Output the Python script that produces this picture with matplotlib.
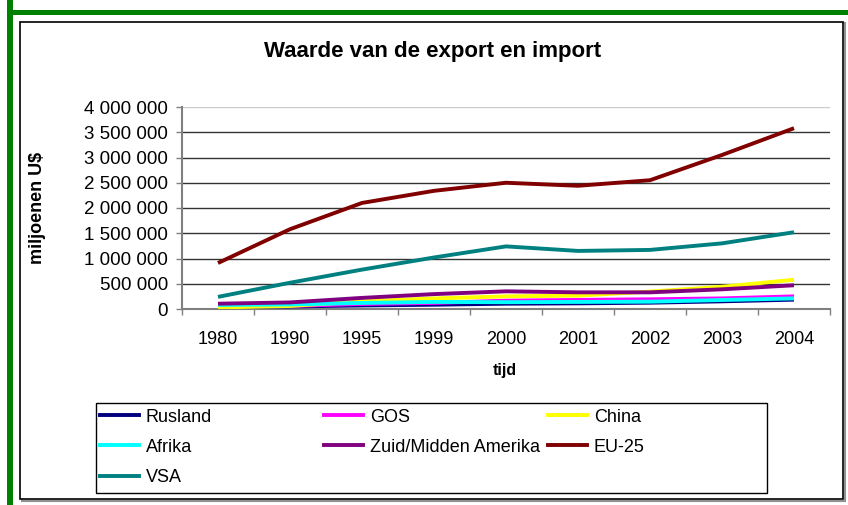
import matplotlib
matplotlib.use("Agg")
import matplotlib.pyplot as plt
import numpy as np
from matplotlib.patches import Rectangle
from matplotlib.lines import Line2D

plt.rcParams['font.family'] = ['Liberation Sans', 'DejaVu Sans']

years = ["1980", "1990", "1995", "1999", "2000", "2001", "2002", "2003", "2004"]
rusland = [40000, 50000, 70000, 85000, 105000, 112000, 125000, 152000, 185000]
gos = [50000, 60000, 100000, 120000, 165000, 180000, 192000, 210000, 250000]
china = [30000, 60000, 150000, 210000, 250000, 265000, 345000, 440000, 580000]
afrika = [80000, 90000, 120000, 140000, 135000, 140000, 145000, 178000, 210000]
zuid_amerika = [105000, 130000, 220000, 295000, 350000, 330000, 330000, 390000, 470000]
eu25 = [911000, 1580000, 2100000, 2340000, 2500000, 2440000, 2550000, 3050000, 3580000]
vsa = [240000, 520000, 780000, 1020000, 1240000, 1150000, 1170000, 1300000, 1520000]
ytick_labels = ["0", "500 000", "1 000 000", "1 500 000", "2 000 000",
                "2 500 000", "3 000 000", "3 500 000", "4 000 000"]

series = [
    ("Rusland", rusland, "#000080"),
    ("GOS", gos, "#FF00FF"),
    ("China", china, "#FFFF00"),
    ("Afrika", afrika, "#00FFFF"),
    ("Zuid/Midden Amerika", zuid_amerika, "#800080"),
    ("EU-25", eu25, "#800000"),
    ("VSA", vsa, "#008080"),
]

W, H = 848, 505
fig = plt.figure(figsize=(W / 100, H / 100), dpi=100)


def fx(px):
    return px / W


def fy(py):
    return 1 - py / H


# borders
fig.patches.append(Rectangle((fx(7), fy(505)), fx(6), 505 / H, transform=fig.transFigure,
                             facecolor="#008000", edgecolor="none", zorder=0))
fig.patches.append(Rectangle((fx(7), fy(15)), fx(841), 5 / H, transform=fig.transFigure,
                             facecolor="#008000", edgecolor="none", zorder=0))
fig.patches.append(Rectangle((fx(22), fy(501)), fx(823), 478 / H, transform=fig.transFigure,
                             facecolor="none", edgecolor="#909090", lw=1.5, zorder=0))
fig.patches.append(Rectangle((fx(20), fy(499)), fx(823), 477 / H, transform=fig.transFigure,
                             facecolor="white", edgecolor="black", lw=1.2, zorder=0))

ax = fig.add_axes([fx(182), fy(309), fx(830 - 182), (309 - 107) / H])
ax.set_zorder(3)
ax.set_facecolor("none")
x = np.arange(len(years))
handles = {}
for name, vals, col in series:
    ln, = ax.plot(x, vals, color=col, lw=2.8, solid_capstyle="butt", label=name, zorder=3)
    handles[name] = ln

ax.set_xlim(-0.5, len(years) - 0.5)
ax.set_ylim(0, 4000000)
yt = np.arange(0, 4000001, 500000)
ax.set_yticks(yt)
ax.set_yticklabels(ytick_labels, fontsize=13.5)
ax.tick_params(axis="y", direction="out", length=4, width=1, color="#808080", pad=6)
ax.set_xticks(np.arange(-0.5, len(years), 1))
ax.set_xticklabels([])
ax.tick_params(axis="x", which="major", direction="out", length=4, width=1, color="#808080")
ax.set_xticks(x, minor=True)
ax.set_xticklabels(years, minor=True, fontsize=13)
ax.tick_params(axis="x", which="minor", length=0, pad=16)

for v in yt[1:]:
    ax.axhline(v, color="#cccccc" if v == 4000000 else "#333333", lw=1, zorder=1)

for s in ["top", "right"]:
    ax.spines[s].set_visible(False)
for s in ["left", "bottom"]:
    ax.spines[s].set_color("#808080")
    ax.spines[s].set_linewidth(1.5)

fig.text(fx(433), fy(52), "Waarde van de export en import", ha="center", va="center",
         fontsize=16, fontweight="bold")
fig.text(fx(38), fy(208), "miljoenen U$", ha="center", va="center", rotation=90,
         fontsize=13, fontweight="bold")
fig.text(fx(505), fy(370), "tijd", ha="center", va="center", fontsize=11.5, fontweight="bold")

# legend
fig.patches.append(Rectangle((fx(96), fy(493)), fx(767 - 96), 90 / H, transform=fig.transFigure,
                             facecolor="white", edgecolor="black", lw=1, zorder=1))
columns = [(["Rusland", "Afrika", "VSA"], 96), (["GOS", "Zuid/Midden Amerika"], 320),
           (["China", "EU-25"], 544)]
for names, xpos in columns:
    hs = [Line2D([], [], color=handles[n].get_color(), lw=2.8) for n in names]
    leg = fig.legend(hs, names, loc="upper left", bbox_to_anchor=(fx(xpos), fy(405)),
                     bbox_transform=fig.transFigure, frameon=False, fontsize=13,
                     handlelength=2.2, handletextpad=0.35, labelspacing=0.73,
                     borderpad=0.2, borderaxespad=0)
    leg.set_zorder(5)

fig.savefig("out.png", dpi=100)
